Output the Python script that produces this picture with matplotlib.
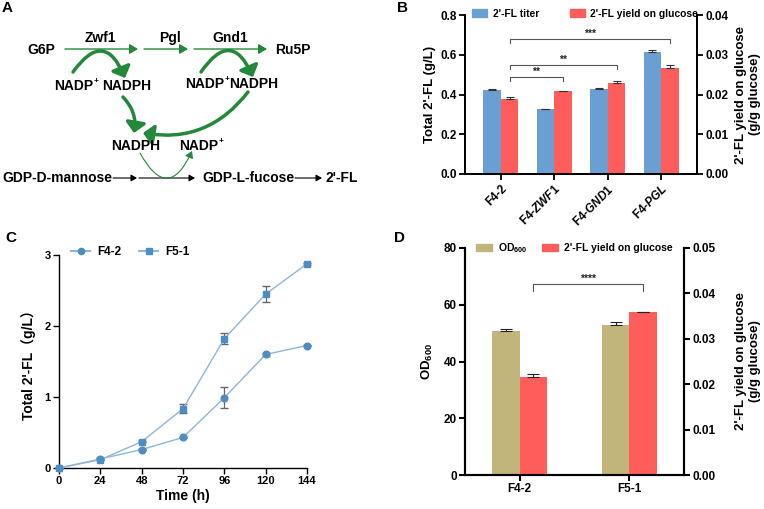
import numpy as np
import matplotlib
matplotlib.use('Agg')
import matplotlib.pyplot as plt
from matplotlib.patches import FancyArrowPatch, Patch
from matplotlib.lines import Line2D

plt.rcParams['font.family'] = ['Liberation Sans', 'Noto Sans CJK SC', 'DejaVu Sans']
plt.rcParams['font.weight'] = 'bold'
plt.rcParams['mathtext.fontset'] = 'custom'
plt.rcParams['mathtext.rm'] = 'Liberation Sans:bold'
plt.rcParams['mathtext.bf'] = 'Liberation Sans:bold'
plt.rcParams['mathtext.it'] = 'Liberation Sans:italic'
plt.rcParams['mathtext.default'] = 'bf'

# ---- data ----
strains_b = ['F4-2', r'F4-$\mathit{ZWF1}$', r'F4-$\mathit{GND1}$', r'F4-$\mathit{PGL}$']
titer_b = [0.425, 0.325, 0.430, 0.613]
titer_err_b = [0.002, 0.002, 0.002, 0.010]
yield_b = [0.0188, 0.0210, 0.0228, 0.0267]
yield_err_b = [0.0006, 0.0000, 0.0006, 0.0007]

time_c = [0, 24, 48, 72, 96, 120, 144]
f42_c = [0.0, 0.127, 0.26, 0.43, 0.99, 1.60, 1.725]
f42_err_c = [0.0, 0.01, 0.01, 0.01, 0.145, 0.02, 0.01]
f51_c = [0.0, 0.117, 0.37, 0.835, 1.82, 2.45, 2.875]
f51_err_c = [0.0, 0.01, 0.01, 0.06, 0.08, 0.11, 0.01]

strains_d = ['F4-2', 'F5-1']
od_d = [50.8, 53.0]
od_err_d = [0.8, 0.8]
yield_d = [0.0216, 0.0360]
yield_err_d = [0.0006, 0.0000]

blue = '#6A9FD3'
red = '#FF5C5C'
olive = '#C2B57C'
green = '#23883A'

fig = plt.figure(figsize=(7.64, 5.09), dpi=100)


def style_axis(ax, lw=1.3, size=8.5):
    for s in ax.spines.values():
        s.set_linewidth(lw)
    ax.tick_params(width=lw, length=4, labelsize=size, pad=2)
    for lab in ax.get_xticklabels() + ax.get_yticklabels():
        lab.set_fontweight('bold')


def bracket(ax, x1, x2, y, h, text, color='#555555'):
    ax.plot([x1, x1, x2, x2], [y - h, y, y, y - h], color=color, lw=0.8, clip_on=False)
    ax.text((x1 + x2) / 2, y, text, ha='center', va='bottom', fontsize=7.5, color='#222222')


# ---- Panel A: pathway diagram ----
axA = fig.add_axes([0, 1 - 220 / 509, 0.5, 220 / 509])
axA.set_xlim(0, 382)
axA.set_ylim(220, 0)
axA.axis('off')


def arr(p1, p2, rad=0.0, lw=1.0, color=green, hw=3, hl=5):
    a = FancyArrowPatch(p1, p2, connectionstyle='arc3,rad=%s' % rad,
                        arrowstyle='-|>,head_width=%s,head_length=%s' % (hw / 10, hl / 10),
                        mutation_scale=10, lw=lw, color=color, shrinkA=0, shrinkB=0)
    axA.add_patch(a)


def nadp(x_end, y):
    # 'NADP' ending at x_end, small '+' after it
    axA.text(x_end, y, 'NADP', ha='right', va='center', fontsize=fs)
    axA.text(x_end + 0.5, y - 4, '+', ha='left', va='center', fontsize=6)


fs = 10
axA.text(41, 50, 'G6P', ha='center', va='center', fontsize=fs)
axA.text(293, 50, 'Ru5P', ha='center', va='center', fontsize=fs)
axA.text(100, 38, 'Zwf1', ha='center', va='center', fontsize=fs)
axA.text(170, 38, 'Pgl', ha='center', va='center', fontsize=fs)
axA.text(230, 38, 'Gnd1', ha='center', va='center', fontsize=fs)
arr((65, 49), (138, 49), hw=3, hl=5)
arr((144, 49), (188, 49), hw=3, hl=5)
arr((194, 49), (267, 49), hw=3, hl=5)
nadp(93, 86)
axA.text(127, 86, 'NADPH', ha='center', va='center', fontsize=fs)
nadp(224, 84)
axA.text(254, 84, 'NADPH', ha='center', va='center', fontsize=fs)
arr((73, 72), (125, 78), rad=-0.9, lw=2.5, hw=6, hl=6)
arr((201, 72), (253, 77), rad=-0.9, lw=2.5, hw=6, hl=6)
arr((123, 97), (134, 133), rad=-0.25, lw=2.5, hw=6, hl=6)
arr((248, 92), (143, 133), rad=-0.3, lw=2.5, hw=6, hl=6)
axA.text(136, 146, 'NADPH', ha='center', va='center', fontsize=fs)
nadp(218, 146)
axA.text(2, 178, 'GDP-D-mannose', ha='left', va='center', fontsize=fs)
axA.text(202, 178, 'GDP-L-fucose', ha='left', va='center', fontsize=fs)
axA.text(325, 178, "2'-FL", ha='left', va='center', fontsize=fs)
arr((113, 178), (137, 178), color='black', lw=0.8, hw=2, hl=3.5)
arr((139, 178), (195, 178), color='black', lw=0.8, hw=2, hl=3.5)
arr((295, 178), (322, 178), color='black', lw=0.8, hw=2, hl=3.5)
arr((140, 153), (192, 151), rad=1.0, lw=0.8, hw=2.5, hl=4)
fig.text(2 / 764, 1 - 8 / 509, 'A', fontsize=11, fontweight='bold', va='center')

# ---- Panel B ----
axB = fig.add_axes([465 / 764, 1 - 174 / 509, 232 / 764, 159 / 509])
axB2 = axB.twinx()
x = np.arange(len(strains_b))
w = 0.33
axB.bar(x - w / 2, titer_b, w, color=blue)
axB.errorbar(x - w / 2, titer_b, yerr=[np.zeros(4), titer_err_b], fmt='none',
             ecolor='#333333', elinewidth=0.8, capsize=3, capthick=0.8)
axB2.bar(x + w / 2, yield_b, w, color=red)
axB2.errorbar(x + w / 2, yield_b, yerr=[np.zeros(4), yield_err_b], fmt='none',
              ecolor='#333333', elinewidth=0.8, capsize=3, capthick=0.8)
axB.set_xlim(-0.67, 3.67)
axB.set_ylim(0, 0.8)
axB.set_yticks([0, 0.2, 0.4, 0.6, 0.8])
axB.set_yticklabels(['0.0', '0.2', '0.4', '0.6', '0.8'])
axB2.set_ylim(0, 0.04)
axB2.set_yticks([0, 0.01, 0.02, 0.03, 0.04])
axB2.set_yticklabels(['0.00', '0.01', '0.02', '0.03', '0.04'])
axB.set_xticks(x)
axB.set_xticklabels(strains_b, rotation=45, ha='right', rotation_mode='anchor')
axB.set_ylabel("Total 2'-FL (g/L)", fontsize=9.5, fontweight='bold', labelpad=3)
axB2.set_ylabel("2'-FL yield on glucose\n(g/g glucose)", fontsize=9.5, fontweight='bold',
                rotation=90, labelpad=5)
for a in (axB, axB2):
    a.spines['top'].set_visible(False)
    style_axis(a)
bracket(axB2, x[0] + w / 2, x[3] + w / 2, 0.0340, 0.001, '***')
bracket(axB2, x[0] + w / 2, x[2] + w / 2, 0.0275, 0.001, '**')
bracket(axB2, x[0] + w / 2, x[1] + w / 2, 0.0245, 0.001, '**')
handles = [Patch(color=blue), Patch(color=red)]
axB.legend(handles, ["2'-FL titer", "2'-FL yield on glucose"], ncol=2, frameon=False,
           loc='upper left', bbox_to_anchor=(0.03, 1.04), handlelength=1.5,
           handleheight=0.7, handletextpad=0.5, columnspacing=3.0, borderpad=0,
           borderaxespad=0, prop={'weight': 'bold', 'size': 7.4})
fig.text(397 / 764, 1 - 8 / 509, 'B', fontsize=11, fontweight='bold', va='center')

# ---- Panel C ----
axC = fig.add_axes([59 / 764, 1 - 468 / 509, 248 / 764, 213 / 509])
line_c = '#8FB6DA'
mk_c = '#4E8DC2'
axC.errorbar(time_c, f42_c, yerr=f42_err_c, color=line_c, lw=1, marker='o', ms=4.8,
             mfc=mk_c, mec=mk_c, ecolor='#666666', elinewidth=0.9, capsize=3, zorder=3)
axC.errorbar(time_c, f51_c, yerr=f51_err_c, color=line_c, lw=1, marker='s', ms=4.8,
             mfc=mk_c, mec=mk_c, ecolor='#666666', elinewidth=0.9, capsize=3, zorder=3)
axC.set_xlim(0, 144)
axC.set_ylim(0, 3)
axC.set_xticks(time_c)
axC.set_yticks([0, 1, 2, 3])
for c in axC.collections + axC.lines:
    c.set_clip_on(False)
axC.spines['top'].set_visible(False)
axC.spines['right'].set_visible(False)
style_axis(axC, lw=1.0, size=8)
axC.set_xlabel('Time (h)', fontsize=10, fontweight='bold', labelpad=2)
axC.set_ylabel("Total 2'-FL（g/L）", fontsize=10, fontweight='bold', labelpad=6)
lh = [Line2D([], [], color=line_c, marker='o', mfc=mk_c, mec=mk_c, ms=4.5),
      Line2D([], [], color=line_c, marker='s', mfc=mk_c, mec=mk_c, ms=4.5)]
axC.legend(lh, ['F4-2', 'F5-1'], ncol=2, frameon=False, loc='upper left',
           bbox_to_anchor=(0.05, 1.04), handlelength=1.6, handletextpad=0.6,
           columnspacing=1.5, borderpad=0, borderaxespad=0,
           prop={'weight': 'bold', 'size': 8.5})
fig.text(5 / 764, 1 - 238 / 509, 'C', fontsize=11, fontweight='bold', va='center')

# ---- Panel D ----
axD = fig.add_axes([465 / 764, 1 - 475 / 509, 219 / 764, 227 / 509])
axD2 = axD.twinx()
xd = np.arange(len(strains_d))
wd = 0.25
axD.bar(xd - wd / 2, od_d, wd, color=olive)
axD.errorbar(xd - wd / 2, od_d, yerr=[np.zeros(2), od_err_d], fmt='none',
             ecolor='#222222', elinewidth=0.8, capsize=4, capthick=0.8)
axD2.bar(xd + wd / 2, yield_d, wd, color=red)
axD2.errorbar(xd + wd / 2, yield_d, yerr=[np.zeros(2), yield_err_d], fmt='none',
              ecolor='#222222', elinewidth=0.8, capsize=4, capthick=0.8)
axD.set_xlim(-0.5, 1.5)
axD.set_ylim(0, 80)
axD.set_yticks([0, 20, 40, 60, 80])
axD2.set_ylim(0, 0.05)
axD2.set_yticks([0, 0.01, 0.02, 0.03, 0.04, 0.05])
axD2.set_yticklabels(['0.00', '0.01', '0.02', '0.03', '0.04', '0.05'])
axD.set_xticks(xd)
axD.set_xticklabels(strains_d)
axD.set_ylabel(r'OD$_{600}$', fontsize=9.5, fontweight='bold', labelpad=6)
axD2.set_ylabel("2'-FL yield on glucose\n(g/g glucose)", fontsize=9.5, fontweight='bold',
                labelpad=14)
for a in (axD, axD2):
    a.spines['top'].set_visible(False)
    style_axis(a, lw=1.5)
bracket(axD2, xd[0] + wd / 2, xd[1] + wd / 2, 0.0420, 0.0015, '****')
axD.legend([Patch(color=olive), Patch(color=red)], [r'OD$_{600}$', "2'-FL yield on glucose"],
           ncol=2, frameon=False, loc='upper left', bbox_to_anchor=(0.05, 1.03),
           handlelength=1.5, handleheight=0.7, handletextpad=0.6, columnspacing=1.4,
           borderpad=0, borderaxespad=0, prop={'weight': 'bold', 'size': 7.5})
fig.text(394 / 764, 1 - 238 / 509, 'D', fontsize=11, fontweight='bold', va='center')

fig.savefig('out.png', dpi=100)
